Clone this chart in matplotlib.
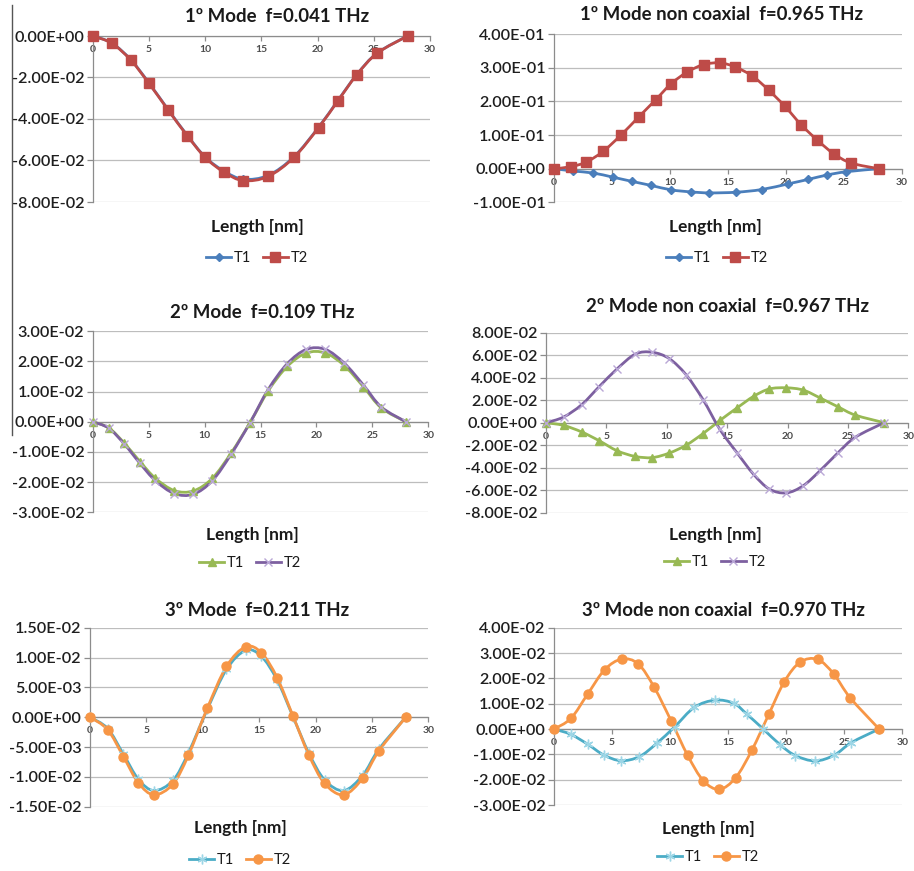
import matplotlib
matplotlib.use("Agg")
import matplotlib.pyplot as plt
from matplotlib.lines import Line2D
from matplotlib.path import Path
from matplotlib.patches import PathPatch
from matplotlib.ticker import FuncFormatter

plt.rcParams['font.family'] = ['Lato', 'DejaVu Sans']

W, H = 914, 871

# ---------------- data ----------------
# Panel 1: 1º Mode f=0.041 THz
x_p1 = [0, 1.7, 3.4, 5.0, 6.7, 8.4, 10.0, 11.7, 13.4, 15.6, 17.9, 20.1, 21.8, 23.5, 25.3, 28.0]
p1_T1 = [0, -0.0034, -0.0115, -0.0226, -0.0354, -0.0478, -0.0583, -0.0652, -0.0690, -0.0672, -0.0582, -0.0439, -0.0311, -0.0185, -0.0082, 0]
p1_T2 = [0, -0.0035, -0.0117, -0.0228, -0.0356, -0.0480, -0.0585, -0.0657, -0.0697, -0.0677, -0.0585, -0.0441, -0.0313, -0.0186, -0.0083, 0]

# Panel 2: 1º Mode non coaxial f=0.965 THz
x_p2_T1 = [0, 1.67, 3.4, 5.05, 6.75, 8.4, 10.1, 11.8, 13.4, 15.7, 17.9, 20.2, 21.9, 23.5, 25.2, 28.0]
p2_T1 = [0, -0.007, -0.013, -0.025, -0.038, -0.050, -0.063, -0.069, -0.072, -0.070, -0.062, -0.045, -0.032, -0.019, -0.009, 0]
x_p2_T2 = [0, 1.46, 2.8, 4.25, 5.77, 7.3, 8.76, 10.1, 11.5, 12.9, 14.3, 15.6, 17.1, 18.5, 19.9, 21.3, 22.7, 24.1, 25.6, 28.0]
p2_T2 = [0, 0.006, 0.020, 0.052, 0.100, 0.154, 0.205, 0.253, 0.288, 0.310, 0.315, 0.303, 0.276, 0.234, 0.186, 0.131, 0.085, 0.045, 0.017, 0]

# Panel 3: 2º Mode f=0.109 THz
x_p3 = [0, 1.43, 2.83, 4.23, 5.6, 7.3, 9.0, 10.7, 12.4, 14.06, 15.7, 17.4, 19.1, 20.8, 22.5, 24.2, 25.8, 28.0]
p3_T1 = [0, -0.0020, -0.0071, -0.0132, -0.0187, -0.0228, -0.0229, -0.0187, -0.0102, -0.0003, 0.0103, 0.0184, 0.0228, 0.0228, 0.0186, 0.0116, 0.0046, 0]
p3_T2 = [0, -0.0021, -0.0074, -0.0138, -0.0195, -0.0238, -0.0240, -0.0195, -0.0106, -0.0003, 0.0108, 0.0193, 0.0240, 0.0240, 0.0194, 0.0122, 0.0049, 0]

# Panel 4: 2º Mode non coaxial f=0.967 THz
x_p4 = [0, 1.45, 2.95, 4.4, 5.9, 7.4, 8.8, 10.2, 11.6, 13.0, 14.4, 15.8, 17.2, 18.5, 19.9, 21.3, 22.7, 24.2, 25.6, 28.0]
p4_T1 = [0, -0.0024, -0.0082, -0.016, -0.025, -0.030, -0.031, -0.027, -0.020, -0.0097, 0.002, 0.013, 0.0235, 0.030, 0.031, 0.029, 0.022, 0.014, 0.0068, 0]
p4_T2 = [0, 0.005, 0.016, 0.032, 0.048, 0.061, 0.0626, 0.057, 0.0426, 0.0206, -0.006, -0.0265, -0.046, -0.059, -0.0624, -0.056, -0.0426, -0.0265, -0.013, 0]

# Panel 5: 3º Mode f=0.211 THz
x_p5 = [0, 1.57, 2.96, 4.29, 5.68, 7.36, 8.72, 10.4, 12.1, 13.8, 15.2, 16.6, 18.0, 19.4, 20.8, 22.5, 24.2, 25.6, 28.0]
p5_T1 = [0, -0.0019, -0.0062, -0.0104, -0.0123, -0.0106, -0.0060, 0.0013, 0.0080, 0.0112, 0.0102, 0.0062, 0.0001, -0.0060, -0.0105, -0.0123, -0.0097, -0.0054, 0]
p5_T2 = [0, -0.0021, -0.0066, -0.0110, -0.0130, -0.0112, -0.0064, 0.0015, 0.0085, 0.0118, 0.0108, 0.0066, 0.0002, -0.0063, -0.0111, -0.0130, -0.0102, -0.0057, 0]

# Panel 6: 3º Mode non coaxial f=0.970 THz
x_p6_T1 = [0, 1.44, 2.9, 4.3, 5.77, 7.35, 8.84, 10.4, 12.1, 13.9, 15.5, 16.6, 18.0, 19.5, 20.8, 22.5, 24.15, 25.6, 28.0]
p6_T1 = [0, -0.0021, -0.0060, -0.0103, -0.0125, -0.0109, -0.0057, 0.0009, 0.0086, 0.0114, 0.0101, 0.0059, 0.0001, -0.0063, -0.0105, -0.0126, -0.0103, -0.0054, 0]
x_p6_T2 = [0, 1.46, 2.9, 4.36, 5.83, 7.26, 8.64, 10.08, 11.5, 12.86, 14.24, 15.65, 17.05, 18.5, 19.84, 21.2, 22.7, 24.1, 25.5, 28.0]
p6_T2 = [0, 0.0042, 0.0138, 0.0234, 0.0276, 0.0257, 0.0164, 0.0033, -0.0103, -0.0204, -0.0238, -0.0192, -0.0083, 0.0058, 0.0187, 0.0264, 0.0275, 0.0217, 0.0124, 0]

titles = ["1º Mode  f=0.041 THz", "1º Mode non coaxial  f=0.965 THz",
          "2º Mode  f=0.109 THz", "2º Mode non coaxial  f=0.967 THz",
          "3º Mode  f=0.211 THz", "3º Mode non coaxial  f=0.970 THz"]
xlabel = "Length [nm]"
series_names = ["T1", "T2"]
xticks = [0, 5, 10, 15, 20, 25, 30]
yticks_p1 = [-0.08, -0.06, -0.04, -0.02, 0.0]
yticks_p2 = [-0.1, 0.0, 0.1, 0.2, 0.3, 0.4]
yticks_p3 = [-0.03, -0.02, -0.01, 0.0, 0.01, 0.02, 0.03]
yticks_p4 = [-0.08, -0.06, -0.04, -0.02, 0.0, 0.02, 0.04, 0.06, 0.08]
yticks_p5 = [-0.015, -0.01, -0.005, 0.0, 0.005, 0.01, 0.015]
yticks_p6 = [-0.03, -0.02, -0.01, 0.0, 0.01, 0.02, 0.03, 0.04]

# ---------------- style ----------------
BLUE, RED = "#4A7EBB", "#BE4B48"
GREEN, PURPLE = "#98B954", "#7D60A0"
TEAL, ORANGE = "#4BACC6", "#F79646"
STAR = (6, 2, 0)

panels = [
    dict(px=(92.7, 430, 36, 202), yt=yticks_p1, title=(277, 16), xl=(257, 227), lg=(257, 258),
         series=[(x_p1, p1_T1, BLUE, 'D', 4.0, BLUE), (x_p1, p1_T2, RED, 's', 6.5, RED)]),
    dict(px=(554, 902, 34.3, 202.3), yt=yticks_p2, title=(722, 15), xl=(715, 227), lg=(717, 258),
         series=[(x_p2_T1, p2_T1, BLUE, 'D', 4.0, BLUE), (x_p2_T2, p2_T2, RED, 's', 6.5, RED)]),
    dict(px=(92.7, 428.3, 331.3, 512.3), yt=yticks_p3, title=(262, 312), xl=(252, 535), lg=(250, 563),
         series=[(x_p3, p3_T1, GREEN, '^', 6.0, GREEN), (x_p3, p3_T2, PURPLE, 'x', 6.0, "#B9A7D6")]),
    dict(px=(546, 908.3, 332.7, 512.7), yt=yticks_p4, title=(728, 307), xl=(715, 535), lg=(715, 562),
         series=[(x_p4, p4_T1, GREEN, '^', 6.0, GREEN), (x_p4, p4_T2, PURPLE, 'x', 6.0, "#B9A7D6")]),
    dict(px=(90, 428.3, 627.7, 806.7), yt=yticks_p5, title=(257, 610), xl=(240, 828), lg=(240, 860),
         series=[(x_p5, p5_T1, TEAL, STAR, 7.0, "#9DD6E6"), (x_p5, p5_T2, ORANGE, 'o', 6.5, ORANGE)]),
    dict(px=(554, 902.3, 627.7, 805), yt=yticks_p6, title=(723, 610), xl=(708, 829), lg=(708, 857),
         series=[(x_p6_T1, p6_T1, TEAL, STAR, 7.0, "#9DD6E6"), (x_p6_T2, p6_T2, ORANGE, 'o', 6.5, ORANGE)]),
]

fig = plt.figure(figsize=(W / 100, H / 100), dpi=100)
fig.patch.set_facecolor("white")


def fx(p):
    return p / W


def fy(p):
    return 1 - p / H


def smooth_path(xs, ys):
    """Excel-like smoothed line: cubic Bezier segments through the data points."""
    n = len(xs)
    verts = [(xs[0], ys[0])]
    codes = [Path.MOVETO]
    for i in range(n - 1):
        xm, ym = (xs[i - 1], ys[i - 1]) if i > 0 else (xs[i], ys[i])
        xp, yp = (xs[i + 2], ys[i + 2]) if i + 2 < n else (xs[i + 1], ys[i + 1])
        c1 = (xs[i] + (xs[i + 1] - xm) / 6.0, ys[i] + (ys[i + 1] - ym) / 6.0)
        c2 = (xs[i + 1] - (xp - xs[i]) / 6.0, ys[i + 1] - (yp - ys[i]) / 6.0)
        verts += [c1, c2, (xs[i + 1], ys[i + 1])]
        codes += [Path.CURVE4, Path.CURVE4, Path.CURVE4]
    return Path(verts, codes)


fmt = FuncFormatter(lambda v, pos: f"{(v + 0.0):.2E}".replace("-0.00E+00", "0.00E+00"))

for i, P in enumerate(panels):
    x0, x1, yt, yb = P['px']
    ax = fig.add_axes([fx(x0), fy(yb), (x1 - x0) / W, (yb - yt) / H])
    ticks = P['yt']
    ax.set_xlim(0, 30)
    ax.set_ylim(ticks[0], ticks[-1])
    ax.set_yticks(ticks)
    ax.set_xticks(xticks)
    ax.yaxis.set_major_formatter(fmt)
    ax.grid(axis='y', color="#BDBDBD", lw=0.9)
    ax.set_axisbelow(True)
    for s in ['top', 'right']:
        ax.spines[s].set_visible(False)
    ax.spines['left'].set_color("#8C8C8C")
    ax.spines['bottom'].set_color("#8C8C8C")
    ax.spines['bottom'].set_position(('data', 0))
    ax.spines['left'].set_linewidth(0.9)
    ax.spines['bottom'].set_linewidth(0.9)
    ax.tick_params(axis='y', length=4, width=0.9, color="#8C8C8C", labelsize=11.6,
                   labelcolor="#1E1E1E", pad=2)
    ax.tick_params(axis='x', length=3.5, width=0.9, color="#8C8C8C", labelsize=7.5,
                   labelcolor="#4D4D4D", pad=3)
    for lab in ax.get_xticklabels():
        lab.set_fontweight('bold')
    for lab in ax.get_yticklabels():
        lab.set_fontweight('semibold')
    handles = []
    for (xs, ys, col, mk, ms, mcol), name in zip(P['series'], series_names):
        ax.add_patch(PathPatch(smooth_path(xs, ys), facecolor='none', edgecolor=col,
                               lw=2.0, zorder=3, clip_on=False, capstyle='round'))
        ax.plot(xs, ys, linestyle='none', marker=mk, markersize=ms,
                markerfacecolor=mcol, markeredgecolor=mcol, markeredgewidth=1.0,
                clip_on=False, zorder=4)
        handles.append(Line2D([], [], color=col, lw=2.0, marker=mk, markersize=ms,
                              markerfacecolor=mcol, markeredgecolor=mcol,
                              markeredgewidth=1.0, label=name))
    tx, ty = P['title']
    fig.text(fx(tx), fy(ty), titles[i], ha='center', va='center', fontsize=13.4,
             fontweight='bold', color="#1A1A1A")
    lx, ly = P['xl']
    fig.text(fx(lx), fy(ly), xlabel, ha='center', va='center', fontsize=12.5,
             fontweight='bold', color="#1A1A1A")
    gx, gy = P['lg']
    leg = ax.legend(handles=handles, loc='center', bbox_to_anchor=(fx(gx), fy(gy)),
                    bbox_transform=fig.transFigure, ncol=2, frameon=False, fontsize=10.5,
                    handlelength=1.7, columnspacing=0.8, handletextpad=0.2, borderpad=0)
    for t in leg.get_texts():
        t.set_color("#1A1A1A")

# thin vertical border line at the far left (present in the source image)
fig.add_artist(Line2D([fx(12), fx(12)], [fy(5), fy(435)], color="#555555", lw=1.0))

fig.savefig("out.png", dpi=100, facecolor="white")
